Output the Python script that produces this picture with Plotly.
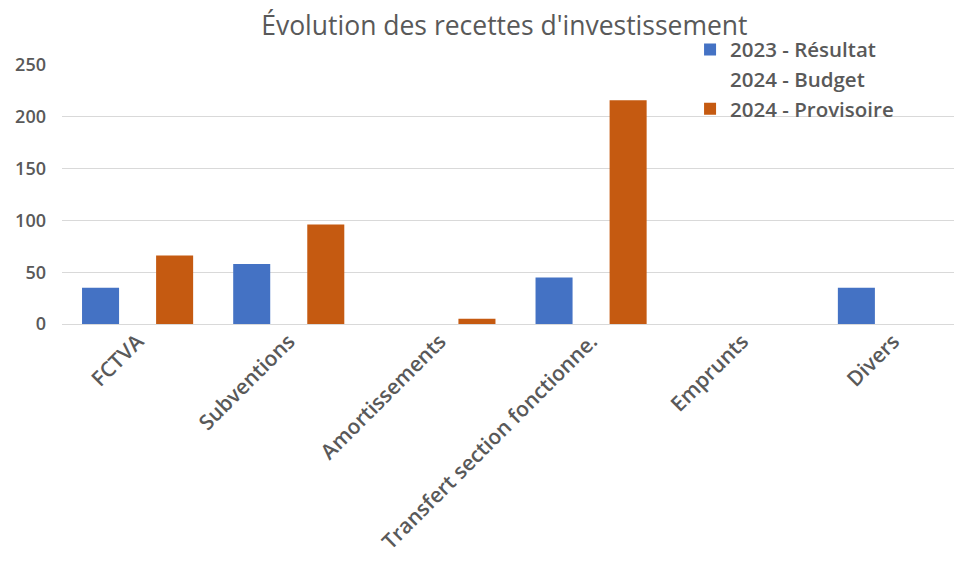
import plotly.graph_objects as go

categories = ["FCTVA", "Subventions", "Amortissements", "Transfert section fonctionne.", "Emprunts", "Divers"]
resultat_2023 = [35, 58, 0, 45, 0, 35]
budget_2024 = [0, 0, 0, 0, 0, 0]
provisoire_2024 = [66, 96, 5, 216, 0, 0]
y_ticks = [0, 50, 100, 150, 200, 250]

font_family = "Open Sans, Noto Sans, sans-serif"
grey = "#595959"

fig = go.Figure()
fig.add_trace(go.Bar(name="2023 - Résultat", x=categories, y=resultat_2023,
                     marker=dict(color="#4472C4", line=dict(width=0))))
fig.add_trace(go.Bar(name="2024 - Budget", x=categories, y=budget_2024,
                     marker=dict(color="rgba(0,0,0,0)", line=dict(width=0))))
fig.add_trace(go.Bar(name="2024 - Provisoire", x=categories, y=provisoire_2024,
                     marker=dict(color="#C55A11", line=dict(width=0))))

fig.update_layout(
    width=962, height=568,
    barmode="group", bargap=0.265, bargroupgap=0,
    paper_bgcolor="white", plot_bgcolor="white",
    margin=dict(l=54, r=1, t=57, b=252, autoexpand=False),
    title=dict(text="Évolution des recettes d'investissement", x=0.516, xanchor="center",
               y=0.969, yanchor="middle",
               font=dict(family=font_family, size=26.5, color=grey)),
    font=dict(family=font_family, color=grey),
    legend=dict(xref="container", yref="container", x=0.709, y=0.962,
                xanchor="left", yanchor="top",
                bgcolor="rgba(0,0,0,0)", font=dict(size=20.5, color=grey, weight=600),
                itemwidth=30, traceorder="normal"),
    xaxis=dict(range=[-0.5, 5.5], tickangle=-45, showgrid=False, showline=False,
               ticks="", tickfont=dict(size=21, color=grey, weight=600)),
    yaxis=dict(range=[0, 250], tickvals=y_ticks, showgrid=True, gridcolor="#D9D9D9",
               gridwidth=1, zeroline=True, zerolinecolor="#D9D9D9", zerolinewidth=1,
               showline=False, ticks="", ticklabelstandoff=15,
               tickfont=dict(size=18, color=grey, weight=600)),
)

fig.write_html("out.html")
